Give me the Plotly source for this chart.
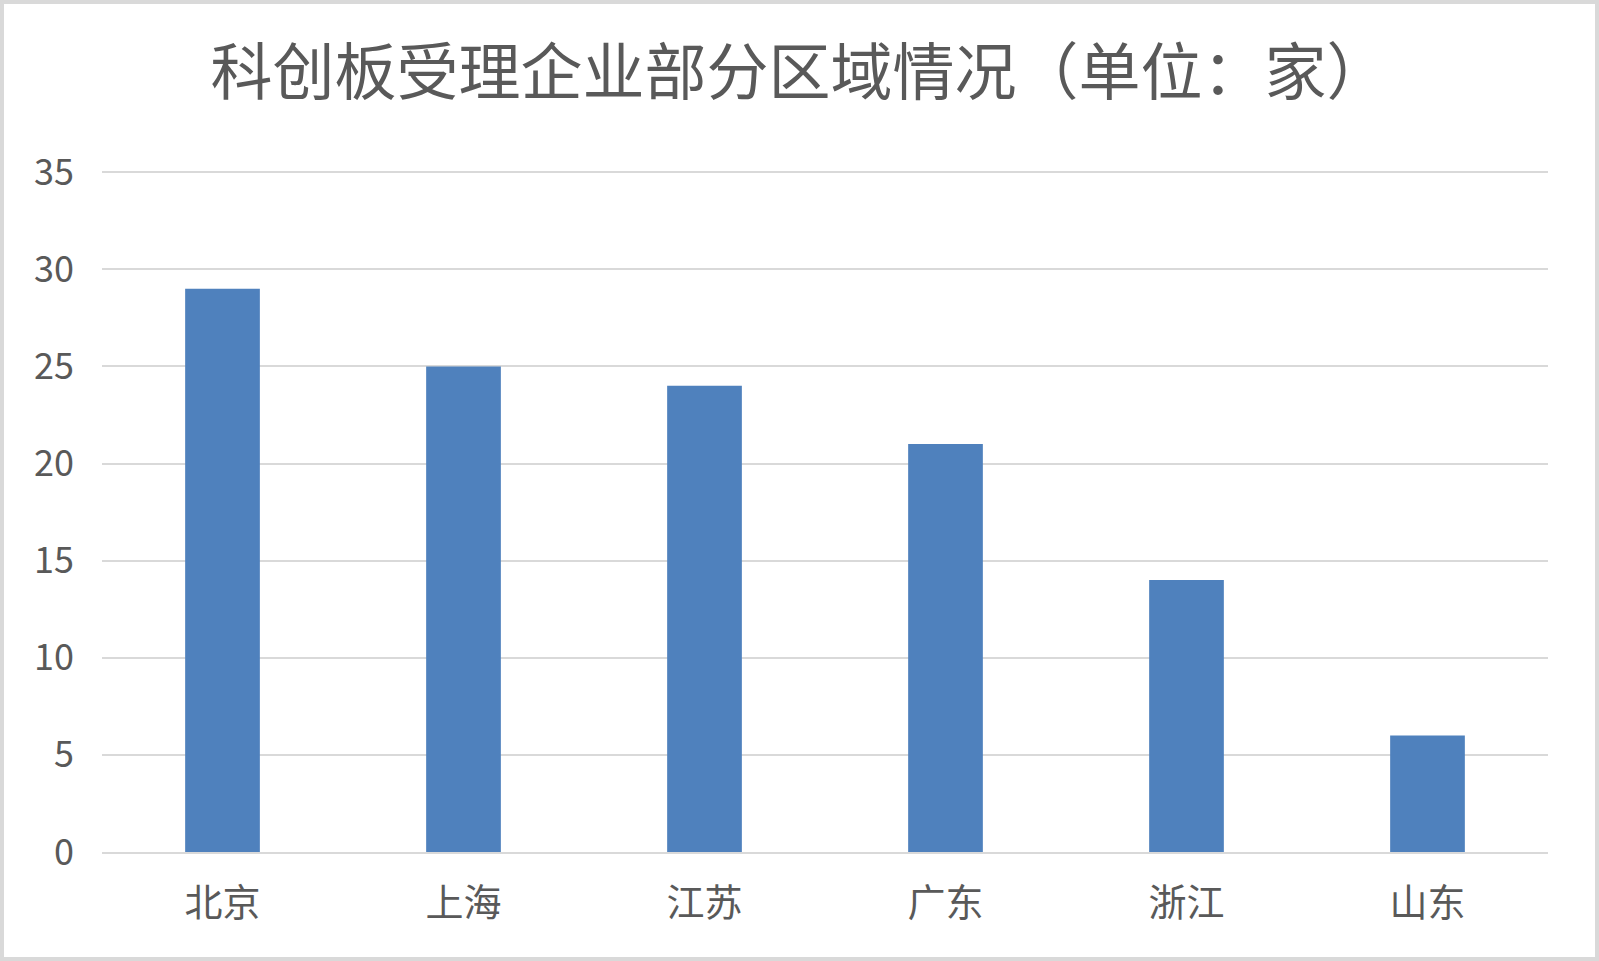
import plotly.graph_objects as go

regions = ['北京', '上海', '江苏', '广东', '浙江', '山东']
counts = [29, 25, 24, 21, 14, 6]
y_ticks = [0, 5, 10, 15, 20, 25, 30, 35]

W, H = 1599, 961
ml, mr, mt, mb = 102, 51, 171, 109
font = 'Noto Sans CJK SC, Microsoft YaHei, sans-serif'

fig = go.Figure()
fig.add_bar(x=regions, y=counts, marker=dict(color='#4f81bd', line=dict(width=0)))

# outer grey frame of the picture
pw, ph = W - ml - mr, H - mt - mb
fig.add_shape(type='rect', xref='paper', yref='paper',
              x0=-(ml - 2) / pw, x1=1 + (mr - 2) / pw,
              y0=-(mb - 2) / ph, y1=1 + (mt - 2) / ph,
              line=dict(color='#d9d9d9', width=4), layer='above')

fig.update_layout(
    width=W, height=H,
    margin=dict(l=ml, r=mr, t=mt, b=mb),
    paper_bgcolor='white', plot_bgcolor='white',
    title=dict(text='科创板受理企业部分区域情况（单位：家）', x=0.5, xanchor='center',
               y=1 - 73 / H, yanchor='middle',
               font=dict(family=font, size=62, color='#595959')),
    bargap=0.69,
    showlegend=False,
    font=dict(family=font, color='#595959'),
)
fig.update_xaxes(showgrid=False, showline=True, linecolor='#d9d9d9', linewidth=2,
                 ticks='', ticklabelstandoff=16,
                 tickfont=dict(size=38, color='#595959'))
fig.update_yaxes(range=[0, 35.06], tickvals=y_ticks, showgrid=True, gridcolor='#d9d9d9',
                 gridwidth=2, zeroline=False, showline=False, ticks='',
                 ticklabelstandoff=27,
                 tickfont=dict(size=36, color='#595959'))

fig.write_html('out.html', config={'displayModeBar': False},
               post_script="document.body.style.margin='0';")
